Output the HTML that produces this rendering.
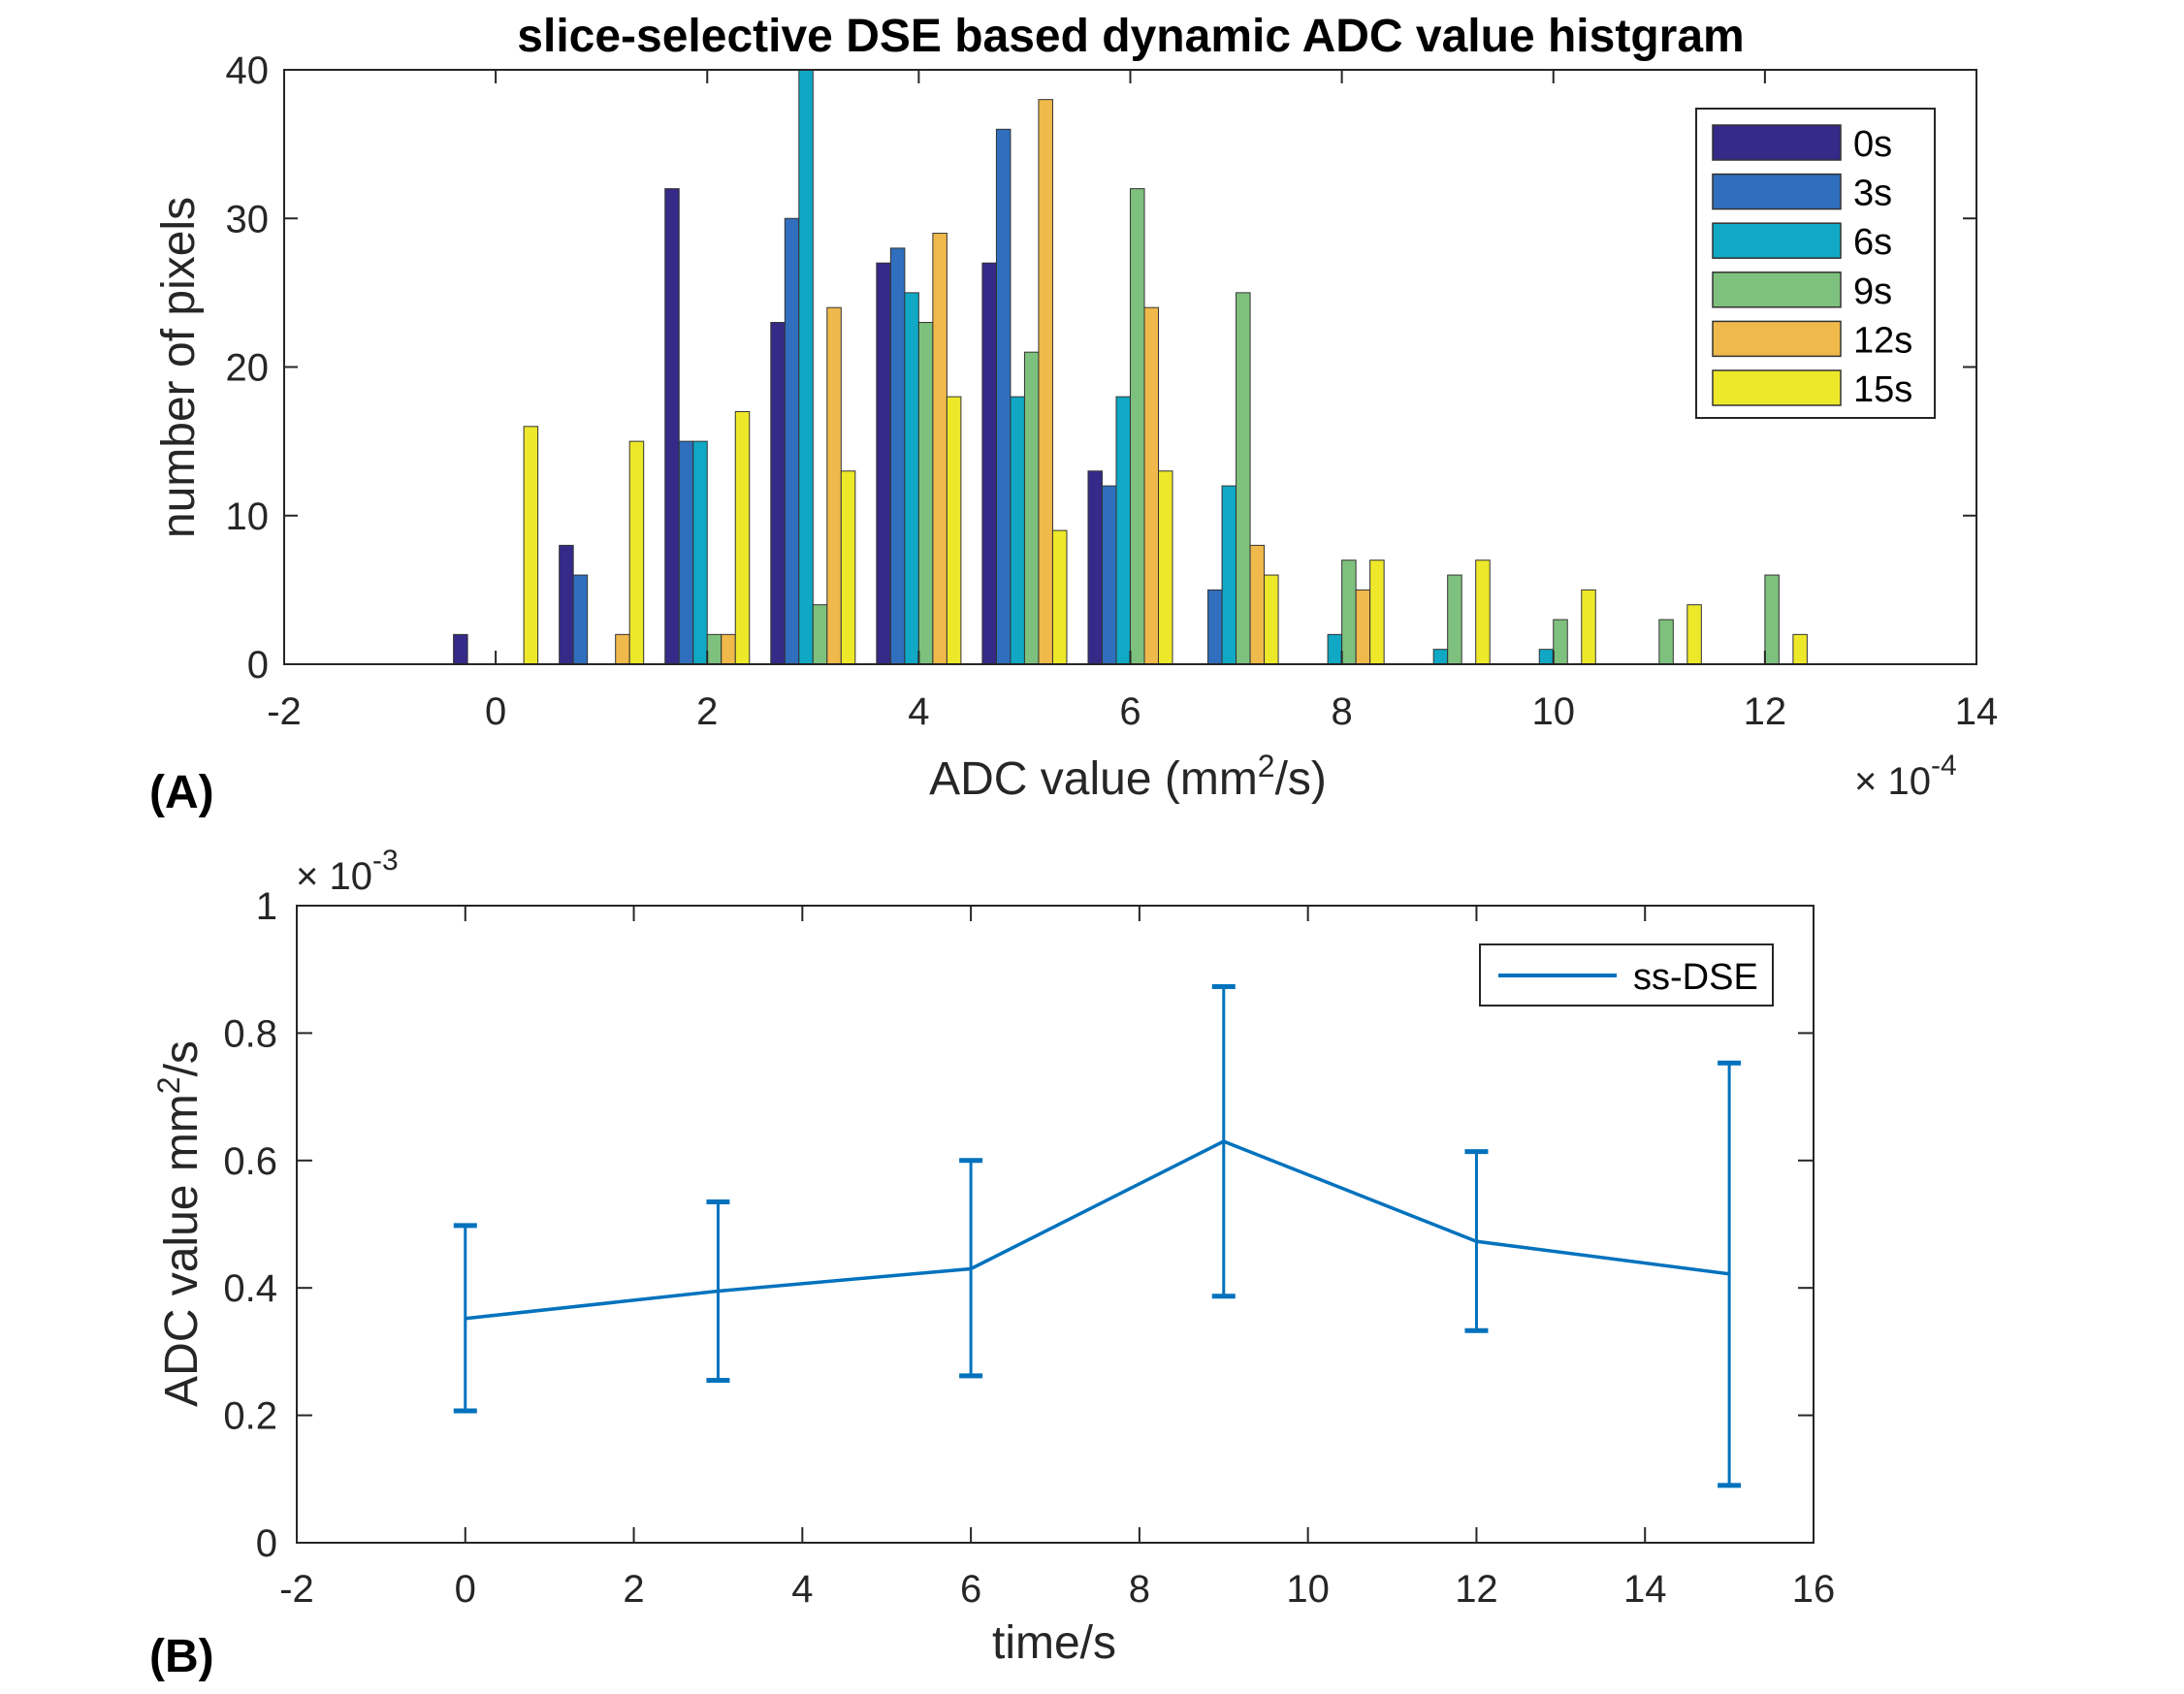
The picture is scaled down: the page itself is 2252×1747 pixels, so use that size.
<!DOCTYPE html>
<html><head><meta charset="utf-8"><style>
body{margin:0;background:#fff}
svg{display:block;font-family:"Liberation Sans",sans-serif}
</style></head><body>
<svg id="fig" width="2252" height="1747" viewBox="0 0 2252 1747">
<rect width="2252" height="1747" fill="#fff"/>
<g id="topChart"></g>
<g id="botChart"></g>
</svg>
<script>
const histCenters=[0,1,2,3,4,5,6,7,8,9,10,11,12];
const histSeriesNames=["0s","3s","6s","9s","12s","15s"];
const hist0s=[2,8,32,23,27,27,13,0,0,0,0,0,0];
const hist3s=[0,6,15,30,28,36,12,5,0,0,0,0,0];
const hist6s=[0,0,15,40,25,18,18,12,2,1,1,0,0];
const hist9s=[0,0,2,4,23,21,32,25,7,6,3,3,6];
const hist12s=[0,2,2,24,29,38,24,8,5,0,0,0,0];
const hist15s=[16,15,17,13,18,9,13,6,7,7,5,4,2];
const histXTicks=[-2,0,2,4,6,8,10,12,14];
const histYTicks=[0,10,20,30,40];
const times=[0,3,6,9,12,15];
const meanADC=[0.352,0.395,0.430,0.630,0.473,0.422];
const lowADC=[0.207,0.255,0.262,0.387,0.333,0.090];
const highADC=[0.498,0.535,0.600,0.873,0.614,0.753];
const lineXTicks=[-2,0,2,4,6,8,10,12,14,16];
const lineYTicks=[0,0.2,0.4,0.6,0.8,1];

const NS="http://www.w3.org/2000/svg";
function mk(parent,tag,attrs,text){const e=document.createElementNS(NS,tag);for(const k in attrs)e.setAttribute(k,attrs[k]);if(text!==undefined)e.textContent=text;parent.appendChild(e);return e;}
function sup(parent,attrs,before,supText,after){
  const t=mk(parent,'text',attrs);
  t.appendChild(document.createTextNode(before));
  mk(t,'tspan',{dy:-18,'font-size':32},supText);
  if(after)mk(t,'tspan',{dy:18},after);
  return t;
}
const TF=40;

// ---------- Top histogram ----------
const topG=document.getElementById('topChart');
const A={l:293,r:2038,t:72,b:685,x0:-2,x1:14,y0:0,y1:40};
const hx=v=>A.l+(v-A.x0)/(A.x1-A.x0)*(A.r-A.l);
const hy=v=>A.b-(v-A.y0)/(A.y1-A.y0)*(A.b-A.t);
const colors=["#352a87","#2f6fbd","#10a8c4","#7ec17e","#f0b94b","#eee82a"];
const series=[hist0s,hist3s,hist6s,hist9s,hist12s,hist15s];
const bw=0.133;
series.forEach((s,si)=>{
  s.forEach((v,i)=>{
    const c=histCenters[i]+(si-2.5)*bw;
    const r=mk(topG,'rect',{x:hx(c-bw/2),y:hy(v),width:hx(c+bw/2)-hx(c-bw/2),height:hy(0)-hy(v),fill:colors[si],stroke:'#333','stroke-width':1});
    
    
  });
});
let fr=mk(topG,'rect',{x:A.l,y:A.t,width:A.r-A.l,height:A.b-A.t,fill:'none',stroke:'#262626','stroke-width':2});


histXTicks.forEach(t=>{const x=hx(t);
  mk(topG,'line',{x1:x,x2:x,y1:A.b,y2:A.b-14,stroke:'#262626','stroke-width':2});
  mk(topG,'line',{x1:x,x2:x,y1:A.t,y2:A.t+14,stroke:'#262626','stroke-width':2});
  const tl=mk(topG,'text',{x:x,y:A.b+62,'text-anchor':'middle','font-size':TF,fill:'#262626'},t);
  
  
});
histYTicks.forEach(t=>{const y=hy(t);
  mk(topG,'line',{x1:A.l,x2:A.l+14,y1:y,y2:y,stroke:'#262626','stroke-width':2});
  mk(topG,'line',{x1:A.r,x2:A.r-14,y1:y,y2:y,stroke:'#262626','stroke-width':2});
  const tl=mk(topG,'text',{x:A.l-16,y:y+14,'text-anchor':'end','font-size':TF,fill:'#262626'},t);
  
  
});
let e;
e=mk(topG,'text',{x:1166,y:53,'text-anchor':'middle','font-size':48,'font-weight':'bold',fill:'#000'},'slice-selective DSE based dynamic ADC value histgram');


e=mk(topG,'text',{x:0,y:0,'text-anchor':'middle','font-size':48,fill:'#262626',transform:'translate(200,379) rotate(-90)'},'number of pixels');


e=sup(topG,{x:1163,y:819,'text-anchor':'middle','font-size':48,fill:'#262626'},'ADC value (mm','2','/s)');


e=mk(topG,'text',{x:1912,y:819,'font-size':TF,fill:'#262626'},'× 10');
mk(e,'tspan',{dy:-20,'font-size':30},'-4');


e=mk(topG,'text',{x:154,y:833,'font-size':48,'font-weight':'bold',fill:'#000'},'(A)');


const L=mk(topG,'g',{});


mk(L,'rect',{x:1749,y:112,width:246,height:319,fill:'#fff',stroke:'#262626','stroke-width':2});
histSeriesNames.forEach((n,i)=>{const y=129+i*50.6;
  const r=mk(L,'rect',{x:1766,y:y,width:132,height:36,fill:colors[i],stroke:'#333','stroke-width':1.5});
  
  
  const t=mk(L,'text',{x:1911,y:y+32,'font-size':38,fill:'#000'},n);
  
  
});

// ---------- Bottom line chart ----------
const botG=document.getElementById('botChart');
const B={l:306,r:1870,t:934,b:1591,x0:-2,x1:16,y0:0,y1:1};
const bx=v=>B.l+(v-B.x0)/(B.x1-B.x0)*(B.r-B.l);
const by=v=>B.b-(v-B.y0)/(B.y1-B.y0)*(B.b-B.t);
fr=mk(botG,'rect',{x:B.l,y:B.t,width:B.r-B.l,height:B.b-B.t,fill:'none',stroke:'#262626','stroke-width':2});


lineXTicks.forEach(t=>{const x=bx(t);
  mk(botG,'line',{x1:x,x2:x,y1:B.b,y2:B.b-16,stroke:'#262626','stroke-width':2});
  mk(botG,'line',{x1:x,x2:x,y1:B.t,y2:B.t+16,stroke:'#262626','stroke-width':2});
  const tl=mk(botG,'text',{x:x,y:B.b+61,'text-anchor':'middle','font-size':TF,fill:'#262626'},t);
  
  
});
lineYTicks.forEach(t=>{const y=by(t);
  mk(botG,'line',{x1:B.l,x2:B.l+16,y1:y,y2:y,stroke:'#262626','stroke-width':2});
  mk(botG,'line',{x1:B.r,x2:B.r-16,y1:y,y2:y,stroke:'#262626','stroke-width':2});
  const tl=mk(botG,'text',{x:B.l-20,y:y+14,'text-anchor':'end','font-size':TF,fill:'#262626'},t);
  
  
});
const blue="#0072bd";
times.forEach((t,i)=>{const x=bx(t);
  const g=mk(botG,'g',{stroke:blue,'stroke-width':3});
  
  
  mk(g,'line',{x1:x,x2:x,y1:by(lowADC[i]),y2:by(highADC[i])});
  mk(g,'line',{x1:x-12,x2:x+12,y1:by(lowADC[i]),y2:by(lowADC[i]),'stroke-width':5});
  mk(g,'line',{x1:x-12,x2:x+12,y1:by(highADC[i]),y2:by(highADC[i]),'stroke-width':5});
});
const pl=mk(botG,'polyline',{points:times.map((t,i)=>bx(t)+','+by(meanADC[i])).join(' '),fill:'none',stroke:blue,'stroke-width':3.5});


e=sup(botG,{x:0,y:0,'text-anchor':'middle','font-size':48,fill:'#262626',transform:'translate(203,1262) rotate(-90)'},'ADC value mm','2','/s');


e=mk(botG,'text',{x:1087,y:1710,'text-anchor':'middle','font-size':48,fill:'#262626'},'time/s');


e=mk(botG,'text',{x:305,y:917,'font-size':TF,fill:'#262626'},'× 10');
mk(e,'tspan',{dy:-20,'font-size':30},'-3');


e=mk(botG,'text',{x:154,y:1724,'font-size':48,'font-weight':'bold',fill:'#000'},'(B)');


const L2=mk(botG,'g',{});


mk(L2,'rect',{x:1526,y:974,width:302,height:63,fill:'#fff',stroke:'#262626','stroke-width':2});
mk(L2,'line',{x1:1545,x2:1667,y1:1006,y2:1006,stroke:blue,'stroke-width':4});
e=mk(L2,'text',{x:1684,y:1020,'font-size':38,fill:'#000'},'ss-DSE');


</script>
</body></html>
